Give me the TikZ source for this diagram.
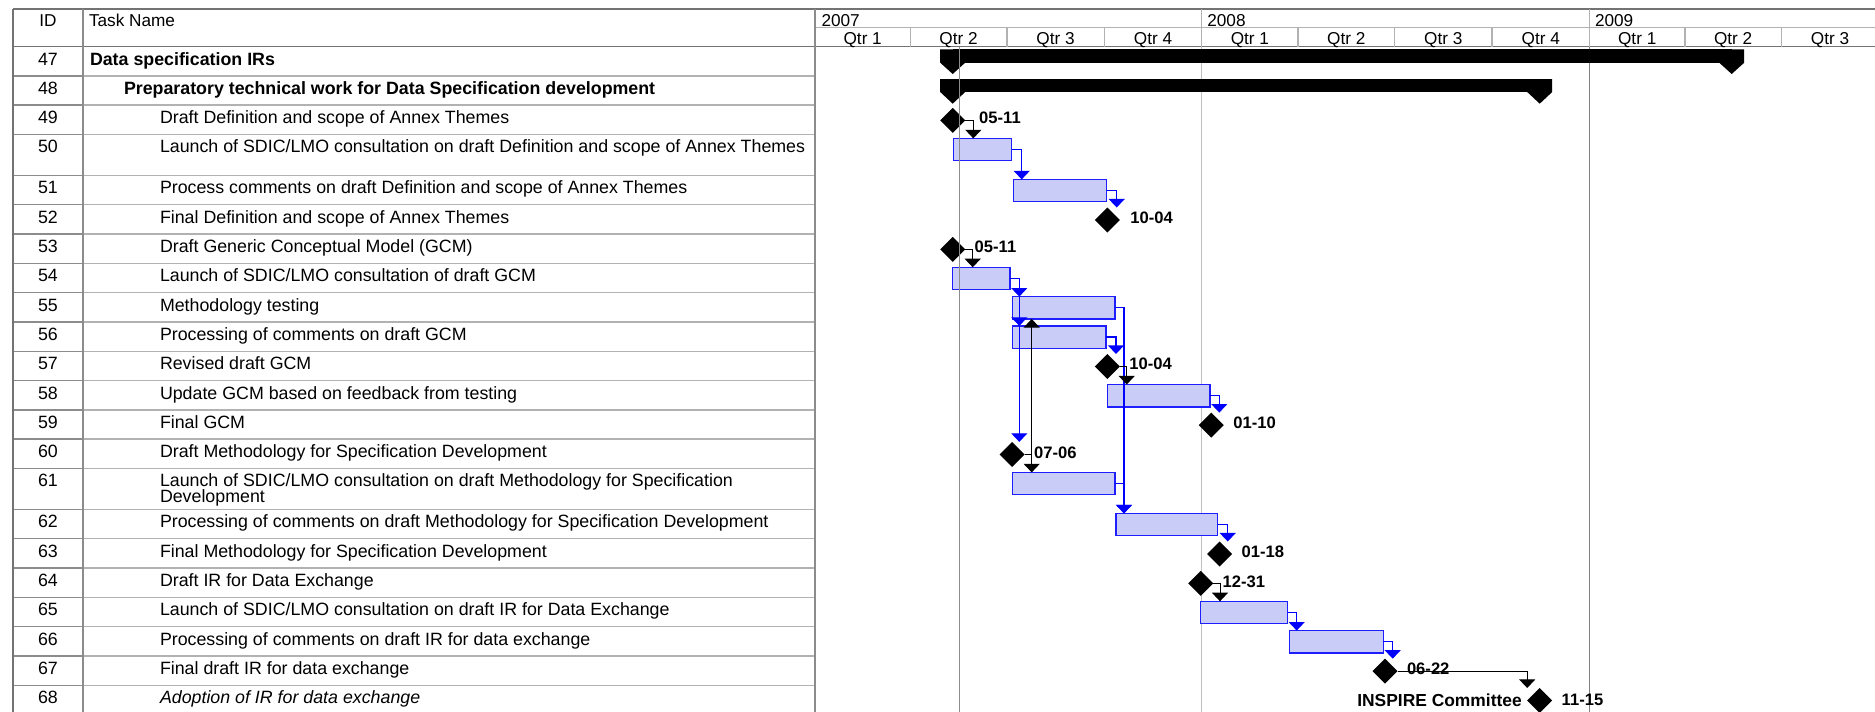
\documentclass[tikz,border=0pt]{standalone}
\usepackage{fontspec}
\setmainfont{Liberation Sans}
\usetikzlibrary{arrows.meta,shapes.geometric,calc}
\definecolor{barfill}{RGB}{200,204,246}
\definecolor{barline}{RGB}{30,30,255}
\definecolor{lnkblue}{RGB}{0,0,255}
\begin{document}
\begin{tikzpicture}[x=0.5pt,y=-0.5pt,
  every node/.style={inner sep=0pt,outer sep=0pt},
  frame/.style={draw=black!55,line width=0.7pt},
  hgrid/.style={draw=black!30,line width=0.7pt},
  idgrid/.style={draw=black!45,line width=0.7pt},
  hdrtxt/.style={font=\fontsize{8.6}{10}\selectfont,anchor=base},
  idtxt/.style={font=\fontsize{8.9}{10}\selectfont,anchor=base},
  tasktxt/.style={font=\fontsize{8.9}{10}\selectfont,anchor=base west},
  lbl/.style={font=\bfseries\fontsize{8.3}{10}\selectfont,anchor=west},
  taskbar/.style={draw=barline,fill=barfill,line width=0.6pt,anchor=north west,minimum height=11.2pt},
  sumbar/.style={fill=black,anchor=north west,minimum height=6.6pt},
  ms/.style={diamond,fill=black,minimum width=12.5pt,minimum height=12.5pt,shape aspect=1},
  lnkb/.style={draw=lnkblue,line width=0.65pt,-{Triangle[width=8pt,length=4.3pt]}},
  lnkk/.style={draw=black,line width=0.5pt,-{Triangle[width=8pt,length=4.3pt]}},
]
\useasboundingbox (0,0) rectangle (1875,712);
\fill[white] (0,0) rectangle (1875,712);

% ---------- table grid ----------
\foreach \t in {75.8,105.1,134.4,175.4,204.7,234,263.3,292.6,321.9,351.2,380.5,409.8,439.1,468.4,509.4,538.7,568,597.3,626.6,655.9,685.2}{
  \draw[idgrid] (13,\t) -- (83,\t);
  \draw[hgrid] (83,\t) -- (815,\t);
}
\draw[frame] (13,9) -- (1875,9);
\draw[frame] (13,46.5) -- (1875,46.5);
\draw[hgrid] (815,27.3) -- (1875,27.3);
\draw[frame] (13,9) -- (13,712);
\draw[idgrid] (83,9) -- (83,712);
\draw[idgrid] (815,9) -- (815,712);
\foreach \q in {910.4,1006.8,1104.2,1298.1,1394.5,1492.0,1684.9,1781.3}{
  \draw[hgrid] (\q,27.3) -- (\q,46.5);
}
\draw[hgrid] (1201.7,9) -- (1201.7,46.5);
\draw[hgrid] (1589.5,9) -- (1589.5,46.5);

% chart year lines
\draw[draw=black!25,line width=0.5pt] (1201.7,46.5) -- (1201.7,712);
\draw[draw=black!50,line width=0.8pt] (1589.5,46.5) -- (1589.5,712);

% ---------- header text ----------
\node[hdrtxt] (hid) at (48,26) {ID};
\node[hdrtxt,anchor=base west] (htask) at (89,26) {Task Name};
\node[hdrtxt,anchor=base west] (y07) at (821.5,26.3) {2007};
\node[hdrtxt,anchor=base west] (y08) at (1207.3,26.3) {2008};
\node[hdrtxt,anchor=base west] (y09) at (1595,26.3) {2009};
\node[hdrtxt] (q1) at (862.7,44.5) {Qtr 1};
\node[hdrtxt] (q2) at (958.6,44.5) {Qtr 2};
\node[hdrtxt] (q3) at (1055.5,44.5) {Qtr 3};
\node[hdrtxt] (q4) at (1153,44.5) {Qtr 4};
\node[hdrtxt] (q5) at (1249.9,44.5) {Qtr 1};
\node[hdrtxt] (q6) at (1346.3,44.5) {Qtr 2};
\node[hdrtxt] (q7) at (1443.3,44.5) {Qtr 3};
\node[hdrtxt] (q8) at (1540.8,44.5) {Qtr 4};
\node[hdrtxt] (q9) at (1637.2,44.5) {Qtr 1};
\node[hdrtxt] (q10) at (1733.1,44.5) {Qtr 2};
\node[hdrtxt] (q11) at (1830,44.5) {Qtr 3};

% ---------- table rows ----------
\node[idtxt] (i47) at (48,65) {47};
\node[tasktxt,font=\bfseries\fontsize{8.9}{10}\selectfont] (t47) at (90,65) {Data specification IRs};
\node[idtxt] (i48) at (48,94.3) {48};
\node[tasktxt,font=\bfseries\fontsize{8.9}{10}\selectfont] (t48) at (124,94.3) {Preparatory technical work for Data Specification development};
\node[idtxt] (i49) at (48,123.6) {49};
\node[tasktxt] (t49) at (160,123.6) {Draft Definition and scope of Annex Themes};
\node[idtxt] (i50) at (48,152.9) {50};
\node[tasktxt] (t50) at (160,152.9) {Launch of SDIC/LMO consultation on draft Definition and scope of Annex Themes};
\node[idtxt] (i51) at (48,193.9) {51};
\node[tasktxt] (t51) at (160,193.9) {Process comments on draft Definition and scope of Annex Themes};
\node[idtxt] (i52) at (48,223.2) {52};
\node[tasktxt] (t52) at (160,223.2) {Final Definition and scope of Annex Themes};
\node[idtxt] (i53) at (48,252.5) {53};
\node[tasktxt] (t53) at (160,252.5) {Draft Generic Conceptual Model (GCM)};
\node[idtxt] (i54) at (48,281.8) {54};
\node[tasktxt] (t54) at (160,281.8) {Launch of SDIC/LMO consultation of draft GCM};
\node[idtxt] (i55) at (48,311.1) {55};
\node[tasktxt] (t55) at (160,311.1) {Methodology testing};
\node[idtxt] (i56) at (48,340.4) {56};
\node[tasktxt] (t56) at (160,340.4) {Processing of comments on draft GCM};
\node[idtxt] (i57) at (48,369.7) {57};
\node[tasktxt] (t57) at (160,369.7) {Revised draft GCM};
\node[idtxt] (i58) at (48,399) {58};
\node[tasktxt] (t58) at (160,399) {Update GCM based on feedback from testing};
\node[idtxt] (i59) at (48,428.3) {59};
\node[tasktxt] (t59) at (160,428.3) {Final GCM};
\node[idtxt] (i60) at (48,457.6) {60};
\node[tasktxt] (t60) at (160,457.6) {Draft Methodology for Specification Development};
\node[idtxt] (i61) at (48,486.9) {61};
\node[tasktxt] (t61) at (160,486.9) {Launch of SDIC/LMO consultation on draft Methodology for Specification};
\node[tasktxt] (t61b) at (160,502) {Development};
\node[idtxt] (i62) at (48,527.9) {62};
\node[tasktxt] (t62) at (160,527.9) {Processing of comments on draft Methodology for Specification Development};
\node[idtxt] (i63) at (48,557.2) {63};
\node[tasktxt] (t63) at (160,557.2) {Final Methodology for Specification Development};
\node[idtxt] (i64) at (48,586.5) {64};
\node[tasktxt] (t64) at (160,586.5) {Draft IR for Data Exchange};
\node[idtxt] (i65) at (48,615.8) {65};
\node[tasktxt] (t65) at (160,615.8) {Launch of SDIC/LMO consultation on draft IR for Data Exchange};
\node[idtxt] (i66) at (48,645.1) {66};
\node[tasktxt] (t66) at (160,645.1) {Processing of comments on draft IR for data exchange};
\node[idtxt] (i67) at (48,674.4) {67};
\node[tasktxt] (t67) at (160,674.4) {Final draft IR for data exchange};
\node[idtxt] (i68) at (48,703.7) {68};
\node[tasktxt,font=\itshape\fontsize{8.9}{10}\selectfont] (t68) at (160,703.7) {Adoption of IR for data exchange};

% ---------- summary bars ----------
\node[sumbar,minimum width={(1731.7-952.7)*0.5pt}] (s47) at (952.7,49.3) {};
\fill (940.2,49.3) -- (965.2,49.3) -- (965.2,62.7) -- (952.7,74) -- (940.2,62.7) -- cycle;
\fill (1719.2,49.3) -- (1744.2,49.3) -- (1744.2,62.7) -- (1731.7,74) -- (1719.2,62.7) -- cycle;
\node[sumbar,minimum width={(1539.7-952.7)*0.5pt}] (s48) at (952.7,79) {};
\fill (940.2,79) -- (965.2,79) -- (965.2,92) -- (952.7,103.7) -- (940.2,92) -- cycle;
\fill (1527.2,79) -- (1552.2,79) -- (1552.2,92) -- (1539.7,103.7) -- (1527.2,92) -- cycle;

% ---------- task bars ----------
\node[taskbar,minimum width={(1011.7-953.3)*0.5pt}] (b50) at (953.3,138.4) {};
\node[taskbar,minimum width={(1106.7-1013.3)*0.5pt}] (b51) at (1013.3,179.4) {};
\node[taskbar,minimum width={(1010-952.7)*0.5pt}] (b54) at (952.7,267.3) {};
\node[taskbar,minimum width={(1115-1012.3)*0.5pt}] (b55) at (1012.3,296.6) {};
\node[taskbar,minimum width={(1106-1012.3)*0.5pt}] (b56) at (1012.3,325.9) {};
\node[taskbar,minimum width={(1210-1107.3)*0.5pt}] (b58) at (1107.3,384.5) {};
\node[taskbar,minimum width={(1115-1012.3)*0.5pt}] (b61) at (1012.3,472.4) {};
\node[taskbar,minimum width={(1217.7-1116)*0.5pt}] (b62) at (1116,513.4) {};
\node[taskbar,minimum width={(1287.7-1200.7)*0.5pt}] (b65) at (1200.7,601.3) {};
\node[taskbar,minimum width={(1383.3-1289.3)*0.5pt}] (b66) at (1289.3,630.6) {};

% ---------- milestones ----------
\node[ms] (m49) at (952.7,120.4) {};
\node[ms] (m52) at (1107.4,220) {};
\node[ms] (m53) at (952.7,249.3) {};
\node[ms] (m57) at (1107.4,366.5) {};
\node[ms] (m59) at (1211.3,425.1) {};
\node[ms] (m60) at (1012.1,454.4) {};
\node[ms] (m63) at (1219.7,554) {};
\node[ms] (m64) at (1200.7,583.3) {};
\node[ms] (m67) at (1385,671.2) {};
\node[ms] (m68) at (1539.7,700.5) {};

% ---------- links ----------
\draw[lnkk] (m49.east) -| ([xshift=4.05pt]m49.east |- b50.north);
\draw[lnkb] (b50.east) -| ([xshift=5pt]b50.east |- b51.north);
\draw[lnkb] (b51.east) -| ([xshift=5pt]b51.east |- m52.north);
\draw[lnkk] (m53.east) -| ([xshift=3.75pt]m53.east |- b54.north);
\draw[lnkb] (b54.east) -| ([xshift=4.65pt]b54.east |- b55.north);
\draw[lnkb] (b54.east) -| ([xshift=4.65pt]b54.east |- b56.north);
\draw[lnkb] (b54.east) -| ([xshift=4.65pt]b54.east |- m60.north);
\draw[lnkb] (b55.east) -| ([xshift=4.5pt]b55.east |- b62.north);
\draw[lnkb] (b56.east) -| ([xshift=5pt]b56.east |- m57.north);
\draw[lnkk] (m57.east) -| ([xshift=3.4pt]m57.east |- b58.north);
\draw[lnkb] (b58.east) -| ([xshift=4.65pt]b58.east |- m59.north);
\draw[lnkk] (m60.east) -| ([xshift=3.55pt]m60.east |- b61.north);
\draw[lnkk] (m60.east) -| ([xshift=3.55pt]m60.east |- b55.south);
\draw[lnkb] (b61.east) -| ([xshift=4.5pt]b61.east |- b62.north);
\draw[lnkb] (b62.east) -| ([xshift=5pt]b62.east |- m63.north);
\draw[lnkk] (m64.east) -| ([xshift=3.4pt]m64.east |- b65.north);
\draw[lnkb] (b65.east) -| ([xshift=4.5pt]b65.east |- b66.north);
\draw[lnkb] (b66.east) -| ([xshift=4.7pt]b66.east |- m67.north);
\draw[lnkk] (m67.east) -| (m68.west |- m68.north);

% ---------- milestone labels ----------
\node[lbl] (l49) at ($(m49.center)+(26.5,-2.5)$) {05-11};
\node[lbl] (l52) at ($(m52.center)+(23,-2.5)$) {10-04};
\node[lbl] (l53) at ($(m53.center)+(22,-2.5)$) {05-11};
\node[lbl] (l57) at ($(m57.center)+(22,-2.5)$) {10-04};
\node[lbl] (l59) at ($(m59.center)+(22,-2)$) {01-10};
\node[lbl] (l60) at ($(m60.center)+(22,-2)$) {07-06};
\node[lbl] (l63) at ($(m63.center)+(22,-2)$) {01-18};
\node[lbl] (l64) at ($(m64.center)+(22,-2)$) {12-31};
\node[lbl] (l67) at ($(m67.center)+(22,-2)$) {06-22};
\node[lbl] (l68) at ($(m68.center)+(22,-0.5)$) {11-15};
\node[lbl,anchor=east,font=\bfseries\fontsize{8.7}{10}\selectfont] (c68) at ($(m68.center)+(-18,-0.5)$) {INSPIRE Committee};

% ---------- current date line ----------
\draw[draw=black!45,line width=0.75pt] (959.5,46.5) -- (959.5,712);
\end{tikzpicture}
\end{document}
